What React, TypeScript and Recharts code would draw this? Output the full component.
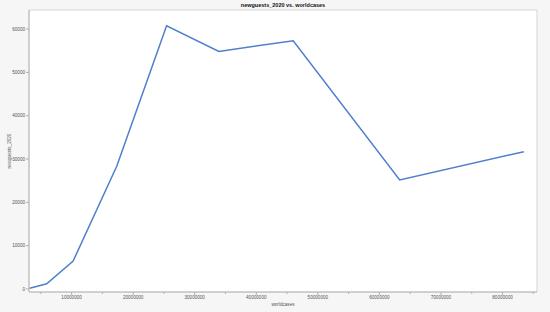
import { CartesianGrid, Label, Line, LineChart, ReferenceArea, XAxis, YAxis } from 'recharts';

const worldcases = [3200000, 5950000, 10250000, 17350000, 25430000, 33920000, 46000000, 63300000, 83460000];
const newguests = [150, 1200, 6450, 28400, 60750, 54850, 57300, 25150, 31700];
const xTicks = [5000000, 10000000, 15000000, 20000000, 25000000, 30000000, 35000000, 40000000, 45000000,
    50000000, 55000000, 60000000, 65000000, 70000000, 75000000, 80000000, 85000000];
const yTicks = [0, 10000, 20000, 30000, 40000, 50000, 60000];

const X_DOMAIN: [number, number] = [3080000, 85600000];
const Y_DOMAIN: [number, number] = [-700, 64400];
const FONT = '"Liberation Sans", Arial, sans-serif';

const data = worldcases.map((w, i) => ({ worldcases: w, newguests_2020: newguests[i] }));

function XTick(props: any) {
    const { x, y, payload } = props;
    const major = payload.value % 10000000 === 0;
    return (
        <g>
            <line x1={x} x2={x} y1={y} y2={y + (major ? 3 : 2)} stroke="#b0b0b0" strokeWidth={1} />
            {major && (
                <text x={x} y={y + 7} textAnchor="middle" fontSize={4.6} fill="#555" fontFamily={FONT}>
                    {payload.value}
                </text>
            )}
        </g>
    );
}

export default function App() {
    return (
        <div style={{ position: 'fixed', left: 0, top: 0, width: 550, height: 312, background: '#f6f6f6' }}>
            <div
                style={{
                    position: 'absolute', top: 2, left: 0, width: 566, textAlign: 'center',
                    fontFamily: FONT, fontSize: 5.5, fontWeight: 'bold', color: '#111', lineHeight: '7px',
                }}
            >
                newguests_2020 vs. worldcases
            </div>
            <LineChart width={550} height={312} data={data} margin={{ top: 10, right: 13, bottom: 0, left: 0 }}>
                <CartesianGrid horizontal={false} vertical={false} fill="#ffffff" />
                <ReferenceArea
                    x1={X_DOMAIN[0]} x2={X_DOMAIN[1]} y1={Y_DOMAIN[0]} y2={Y_DOMAIN[1]}
                    fill="#ffffff" fillOpacity={1} stroke="#d4d4d4" strokeWidth={1}
                />
                <XAxis
                    dataKey="worldcases"
                    type="number"
                    domain={X_DOMAIN}
                    ticks={xTicks}
                    allowDataOverflow
                    height={20}
                    tickSize={0}
                    tickMargin={0}
                    tickLine={false}
                    axisLine={{ stroke: '#b8b8b8' }}
                    tick={<XTick />}
                    interval={0}
                >
                    <Label value="worldcases" position="insideBottom" offset={6} fontSize={4.6} fill="#555" fontFamily={FONT} />
                </XAxis>
                <YAxis
                    type="number"
                    domain={Y_DOMAIN}
                    ticks={yTicks}
                    allowDataOverflow
                    width={29}
                    tickSize={3}
                    tickMargin={1}
                    interval={0}
                    axisLine={{ stroke: '#b8b8b8' }}
                    tickLine={{ stroke: '#b0b0b0' }}
                    tick={{ fontSize: 4.6, fill: '#555', fontFamily: FONT }}
                >
                    <Label
                        value="newguests_2020"
                        angle={-90}
                        position="insideLeft"
                        offset={0}
                        dx={9}
                        fontSize={4.6}
                        fill="#555"
                        fontFamily={FONT}
                        style={{ textAnchor: 'middle' }}
                    />
                </YAxis>
                <Line
                    type="linear"
                    dataKey="newguests_2020"
                    stroke="#4f7ecc"
                    strokeWidth={1.5}
                    dot={false}
                    isAnimationActive={false}
                />
            </LineChart>
        </div>
    );
}
